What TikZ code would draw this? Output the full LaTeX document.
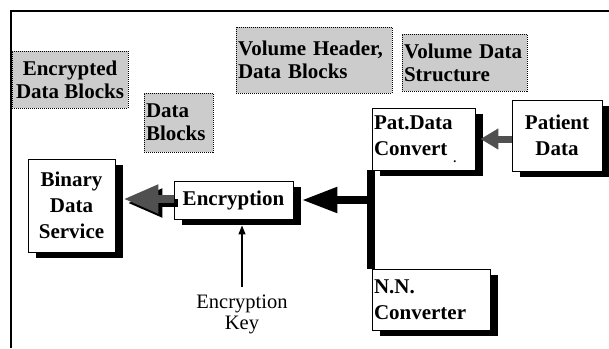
\documentclass[tikz,border=0pt]{standalone}
\usepackage{fontspec}
\setmainfont{Liberation Serif}
\usetikzlibrary{arrows.meta,shadows}
\definecolor{graybox}{HTML}{CCCCCC}
\definecolor{arrgray}{HTML}{505050}
\begin{document}
\begin{tikzpicture}[x=1pt,y=-1pt,
  wbox/.style={draw=black, line width=0.9pt, fill=white,
    drop shadow={shadow xshift=8pt, shadow yshift=-6pt, opacity=1, fill=black},
    font=\bfseries\fontsize{21}{26}\selectfont, inner sep=2pt},
  gbox/.style={draw=black, line width=1pt, dash pattern=on 1pt off 1pt, fill=graybox,
    font=\bfseries\fontsize{21}{23}\selectfont, inner sep=2pt},
  thickbar/.style={line width=8pt, draw=black},
  bigarrow/.style={thickbar, -{Triangle[length=36pt,width=24pt]}},
  grayarrow/.style={line width=7pt, draw=arrgray, -{Triangle[length=18pt,width=20pt]}},
  encarrow/.style={line width=8pt, -{Triangle[length=35pt,width=27pt]}},
  keyarrow/.style={line width=1.2pt, -{Triangle[length=9pt,width=7pt]}}]
\useasboundingbox (0,0) rectangle (609,348);
% frame
\draw[line width=2.3pt] (11,348) -- (11,11) -- (609,11);
% gray dotted label boxes
\node[gbox, minimum width=116pt, minimum height=57pt, align=center] (edb) at (70,79.5) {Encrypted\\Data Blocks};
\node[gbox, text width=65pt, minimum height=59pt, align=left] (db) at (178.5,122.5) {Data\\Blocks};
\node[gbox, text width=152pt, minimum height=66pt, align=left] (vh) at (314,60) {Volume Header,\\Data Blocks};
\node[gbox, text width=121pt, minimum height=57pt, align=left] (vd) at (464.5,62.5) {Volume Data\\Structure};
% white boxes
\node[wbox, minimum width=87pt, minimum height=93pt, align=center] (bin) at (71.5,205.5) {Binary\\Data\\Service};
\node[wbox, minimum width=119pt, minimum height=38pt] (enc) at (233.5,200) {Encryption};
\node[wbox, text width=99pt, minimum height=62pt, align=left] (pat) at (423.5,139) {Pat.Data\\Convert\hspace{6pt}\raisebox{-7pt}{\fontsize{12}{12}\selectfont .}};
\node[wbox, minimum width=90pt, minimum height=71pt, align=center] (pd) at (557,135.5) {Patient\\Data};
\node[wbox, text width=114pt, minimum height=61pt, align=left] (nn) at (431,299.5) {N.N.\\Converter};
\node[font=\fontsize{20.5}{21}\selectfont, align=center, inner sep=2pt] (key) at (242,314) {Encryption\\Key};
% connectors
\coordinate (barx) at ([xshift=-0.5pt]pat.south west);
\draw[thickbar] (barx) -- (barx |- nn.north);
\draw[bigarrow] (barx |- enc.east) -- ([xshift=8pt]enc.east);
\draw[grayarrow] (pd.west |- pat.east) -- ([xshift=5pt]pat.east);
\coordinate (ew) at ([yshift=1pt]enc.west);
\coordinate (ews) at ([xshift=4pt,yshift=-3pt]enc.west);
\coordinate (bt) at ([xshift=8pt]bin.east);
\coordinate (bts) at ([xshift=12pt]bin.east);
\draw[encarrow, draw=black] (ews) -- (bts |- ews);
\draw[encarrow, draw=arrgray] (ew) -- (bt |- ew);
\coordinate (encsb) at ([yshift=-6pt]enc.south);
\draw[keyarrow] ([yshift=5pt]key.north) -- (key.north |- encsb);
\end{tikzpicture}
\end{document}
